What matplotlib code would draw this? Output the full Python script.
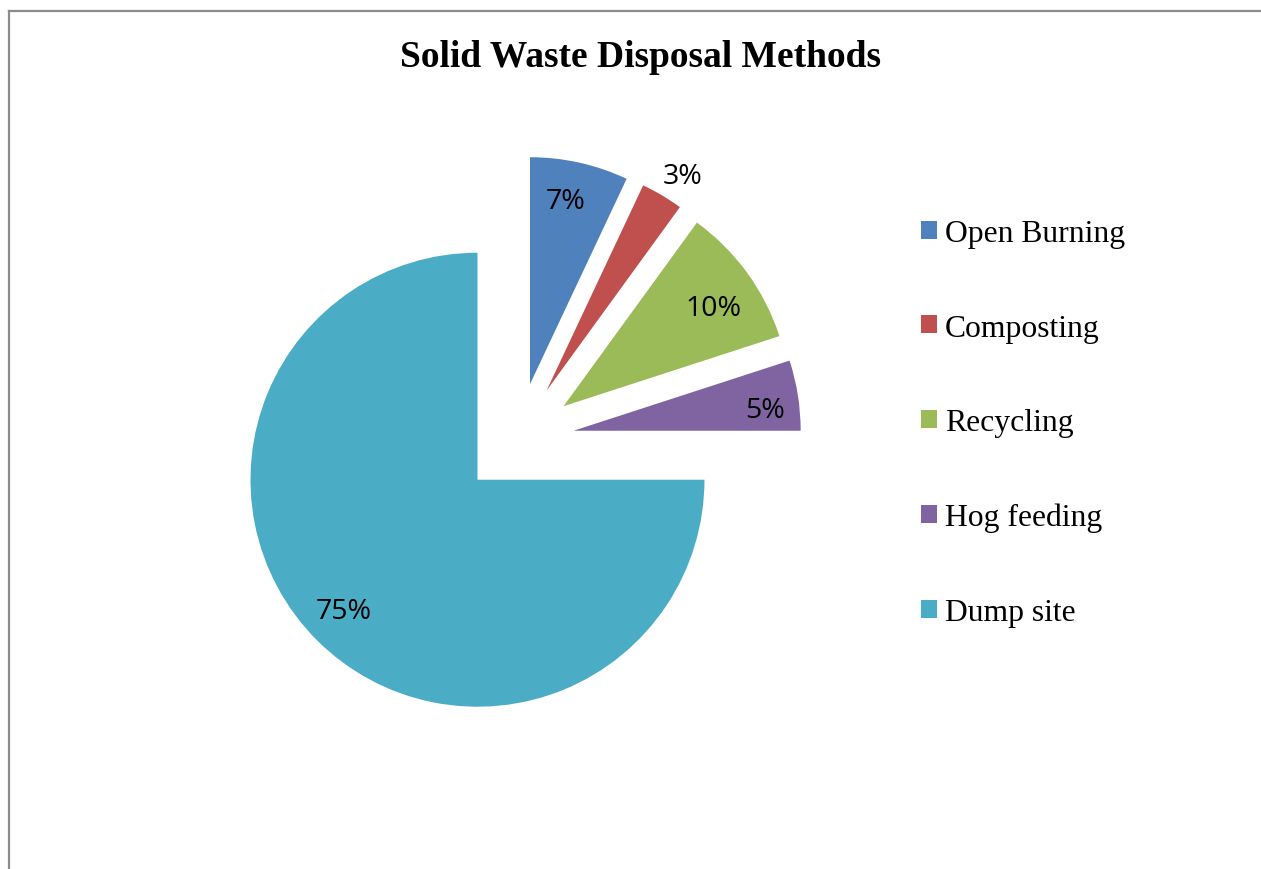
import numpy as np
import matplotlib
matplotlib.use('Agg')
import matplotlib.pyplot as plt
from matplotlib.lines import Line2D

# data
methods = ['Open Burning', 'Composting', 'Recycling', 'Hog feeding', 'Dump site']
shares = [7, 3, 10, 5, 75]
colors = ['#4F81BD', '#C0504D', '#9BBB59', '#8064A2', '#4BACC6']

# label placement relative to each (exploded) slice tip:
# distance in radii and a small turn off the mid angle (degrees)
label_dist = [0.838, 1.135, 0.798, 0.850, 0.816]
label_turn = [1.7, -1.4, -1.8, -1.8, -1.4]

W, H = 1261, 870
fig = plt.figure(figsize=(W / 100, H / 100), dpi=100)

# pie: centre at (517.6, 440.6) px, radius 227 px
cx, cy, r = 517.6, 440.6, 227.0
lim = 1.5
ax = fig.add_axes([(cx - lim * r) / W, (H - cy - lim * r) / H,
                   2 * lim * r / W, 2 * lim * r / H])
wedges, _ = ax.pie(shares, colors=colors, startangle=90, counterclock=False,
                   explode=[0.25] * len(shares), radius=1.0,
                   wedgeprops=dict(linewidth=0))
ax.set_xlim(-lim, lim)
ax.set_ylim(-lim, lim)
ax.axis('off')

# percentage labels (baseline dropped by half the digit height)
half_digit = 10.3 / r
for w, val, d, t in zip(wedges, shares, label_dist, label_turn):
    mid = np.deg2rad((w.theta1 + w.theta2) / 2 + t)
    x0, y0 = w.center
    ax.text(x0 + d * np.cos(mid), y0 + d * np.sin(mid) - half_digit,
            f'{val}%', ha='center', va='baseline', fontsize=20.5,
            family='Open Sans', color='black')

# title
fig.text(640.5 / W, 1 - 67 / H, 'Solid Waste Disposal Methods',
         ha='center', va='baseline', fontsize=27, fontweight='bold',
         family='Liberation Serif')

# legend
leg = fig.legend(wedges, methods, loc='center left',
                 bbox_to_anchor=(921 / W, 1 - 424 / H),
                 frameon=False, borderpad=0, borderaxespad=0,
                 handlelength=0.5, handleheight=0.5, handletextpad=0.25,
                 labelspacing=2.07,
                 prop=dict(family='Liberation Serif', size=22.8))

# chart border (top and left visible)
fig.add_artist(Line2D([8.5 / W, 8.5 / W], [0, 1 - 12 / H],
                      transform=fig.transFigure, color='#8c8c8c', lw=1.6))
fig.add_artist(Line2D([8.5 / W, 1], [1 - 12 / H, 1 - 12 / H],
                      transform=fig.transFigure, color='#8c8c8c', lw=1.6))

fig.savefig('out.png', dpi=100)
